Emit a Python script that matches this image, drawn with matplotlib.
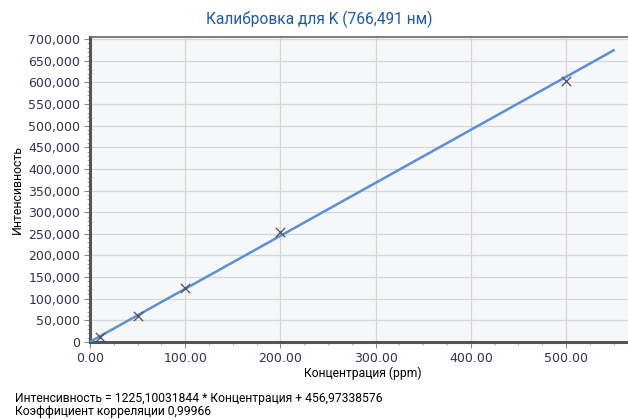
import numpy as np
import matplotlib as mpl
mpl.use("Agg")
import matplotlib.pyplot as plt
from matplotlib.ticker import MultipleLocator, FuncFormatter

# calibration standards (ppm) and measured intensity
conc = [10, 50, 100, 200, 500]
intensity = [11600, 61000, 124600, 255000, 604000]

# fitted line shown on the chart
slope = 1225.10031844
intercept = 456.97338576
line_x = np.array([0, 550])

title = "Калибровка для K (766,491 нм)"
xlabel = "Концентрация (ppm)"
ylabel = "Интенсивность"
eq_text = "Интенсивность = 1225,10031844 * Концентрация + 456,97338576"
corr_text = "Коэффициент корреляции 0,99966"

narrow = ["Liberation Sans Narrow", "DejaVu Sans Condensed", "Roboto", "DejaVu Sans"]

fig = plt.figure(figsize=(6.28, 4.19), dpi=100)
ax = fig.add_axes([90/628, 1 - 342/419, 538/628, 305/419])
ax.set_facecolor("#f6f7f8")

ax.plot(line_x, slope * line_x + intercept, color="#5b8fd8", lw=1.8, zorder=3)
ax.scatter(conc, intensity, marker="x", s=45, color="#505050", linewidths=0.9, zorder=4)

ax.set_xlim(0, 565)
ax.set_ylim(0, 705000)
ax.xaxis.set_major_locator(MultipleLocator(100))
ax.xaxis.set_minor_locator(MultipleLocator(25))
ax.yaxis.set_major_locator(MultipleLocator(50000))
ax.yaxis.set_minor_locator(MultipleLocator(10000))
ax.xaxis.set_major_formatter(FuncFormatter(lambda v, p: f"{v:.2f}"))
ax.yaxis.set_major_formatter(FuncFormatter(lambda v, p: f"{int(v):,}"))

ax.grid(True, which="major", color="#d6d6d6", lw=0.9)
ax.set_axisbelow(True)

for s in ["left", "bottom"]:
    ax.spines[s].set_color("#555555")
    ax.spines[s].set_linewidth(2.2)
ax.spines["top"].set_color("#666666")
ax.spines["top"].set_linewidth(1.2)
ax.spines["right"].set_visible(False)

ax.tick_params(axis="both", which="major", length=4, width=0.8, color="#888888",
               labelsize=9, labelcolor="#3a2c50", pad=3)
ax.tick_params(axis="both", which="minor", length=2.5, width=0.6, color="#999999")

ax.set_xlabel(xlabel, family=narrow, fontsize=8.7, labelpad=3)
ax.xaxis.set_label_coords((363 - 90) / 538, -0.08)
ax.set_ylabel(ylabel, family=narrow, fontsize=8.8, labelpad=3)

fig.text(319/628, 1 - 19/419, title, family=narrow, fontsize=11.2, color="#1f5aa6",
         ha="center", va="center")
fig.text(15/628, 1 - 398/419, eq_text, family=narrow, fontsize=8.7, va="center")
fig.text(15/628, 1 - 411/419, corr_text, family=narrow, fontsize=8.7, va="center")

fig.savefig("out.png", dpi=100, facecolor="white")
